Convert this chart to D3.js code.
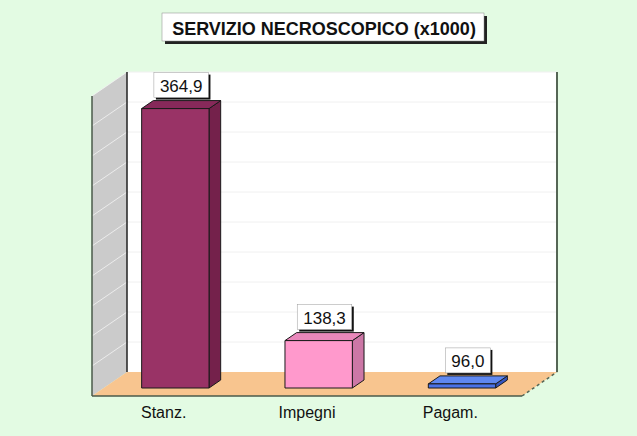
<!DOCTYPE html>
<html><head><meta charset="utf-8">
<script src="https://cdn.jsdelivr.net/npm/d3@7"></script>
<style>
html,body{margin:0;padding:0;background:#e3fbe3;}
svg{display:block;}
text{font-family:"Liberation Sans", Arial, sans-serif;}
</style></head>
<body>
<svg id="chart" width="637" height="436"></svg>
<script>
// ---- data ----
const title = "SERVIZIO NECROSCOPICO (x1000)";
const categories = ["Stanz.", "Impegni", "Pagam."];
const values = [364.9, 138.3, 96.0];
const frontColors = ["#993366", "#ff99cc", "#4a72e6"];
const topColors = ["#87295a", "#e988bb", "#5f88f0"];
const sideColors = ["#74214b", "#cc77a6", "#3556c0"];
const axisDomain = [92, 385];
const gridDivisions = 10;

// ---- layout ----
const svg = d3.select("#chart");
const W = 637, H = 436;
const backLeft = 127, backRight = 557, backTop = 72, backBottom = 372;
const DX = 35, DY = 24; // depth vector (front -> back)
const frontLeft = backLeft - DX, frontRight = backRight - DX, frontBottom = backBottom + DY;

const x = d3.scaleBand().domain(categories).range([frontLeft, frontRight]);
const y = d3.scaleLinear().domain(axisDomain).range([backBottom, backTop]);
const fmt = d3.formatLocale({decimal: ",", thousands: ".", grouping: [3], currency: ["", "€"]}).format(".1f");

svg.append("rect").attr("width", W).attr("height", H).attr("fill", "#e3fbe3");

// back wall
svg.append("rect").attr("x", backLeft).attr("y", backTop)
  .attr("width", backRight - backLeft).attr("height", backBottom - backTop).attr("fill", "#ffffff");
// left wall
svg.append("polygon")
  .attr("points", [[frontLeft, backTop + DY], [backLeft, backTop], [backLeft, backBottom], [frontLeft, frontBottom]].map(p => p.join(",")).join(" "))
  .attr("fill", "#cbcbcb");
// floor
svg.append("polygon")
  .attr("points", [[backLeft, backBottom], [backRight, backBottom], [frontRight, frontBottom], [frontLeft, frontBottom]].map(p => p.join(",")).join(" "))
  .attr("fill", "#f8c58f");

// gridlines
const gridVals = d3.range(gridDivisions + 1).map(i => axisDomain[0] + (axisDomain[1] - axisDomain[0]) * i / gridDivisions);
const g = svg.append("g");
gridVals.slice(1).forEach(v => {
  g.append("line").attr("x1", backLeft).attr("x2", backRight).attr("y1", y(v)).attr("y2", y(v))
    .attr("stroke", "#f0f0f0").attr("stroke-width", 1);
  g.append("line").attr("x1", frontLeft).attr("x2", backLeft).attr("y1", y(v) + DY).attr("y2", y(v))
    .attr("stroke", "#f4f4f4").attr("stroke-width", 0.8);
});

// frame lines
svg.append("line").attr("x1", backLeft).attr("x2", backLeft).attr("y1", backTop).attr("y2", backBottom).attr("stroke", "#222").attr("stroke-width", 1.5);
svg.append("line").attr("x1", frontLeft).attr("x2", frontLeft).attr("y1", backTop + DY).attr("y2", frontBottom).attr("stroke", "#4a5a4a").attr("stroke-width", 1.5);
svg.append("line").attr("x1", backRight).attr("x2", backRight).attr("y1", backTop).attr("y2", backBottom).attr("stroke", "#556655").attr("stroke-width", 2);
svg.append("line").attr("x1", frontLeft).attr("x2", frontRight).attr("y1", frontBottom).attr("y2", frontBottom).attr("stroke", "#4a5a4a").attr("stroke-width", 1.5);
svg.append("line").attr("x1", frontRight).attr("x2", backRight).attr("y1", frontBottom).attr("y2", backBottom)
  .attr("stroke", "#556655").attr("stroke-width", 1.5).attr("stroke-dasharray", "3,3");

// bars
const dFront = 1/3, dBack = 2/3;
const bw = x.bandwidth() * 0.47;
values.forEach((v, i) => {
  const c = x(categories[i]) + x.bandwidth() / 2;
  const fx = c + DX * dFront;
  const x0 = fx - bw / 2, x1 = fx + bw / 2;
  const yb = y(axisDomain[0]) + (DY - DY * dFront);
  const yt = y(v) + (DY - DY * dFront);
  const ddx = DX * (dBack - dFront), ddy = DY * (dBack - dFront);
  const grp = svg.append("g").attr("stroke", "#1a1a1a").attr("stroke-width", 1).attr("stroke-linejoin", "round");
  // side
  grp.append("polygon").attr("points", [[x1, yt], [x1 + ddx, yt - ddy], [x1 + ddx, yb - ddy], [x1, yb]].map(p => p.join(",")).join(" "))
    .attr("fill", sideColors[i]);
  // top
  grp.append("polygon").attr("points", [[x0, yt], [x1, yt], [x1 + ddx, yt - ddy], [x0 + ddx, yt - ddy]].map(p => p.join(",")).join(" "))
    .attr("fill", topColors[i]);
  // front
  grp.append("rect").attr("x", x0).attr("y", yt).attr("width", bw).attr("height", yb - yt).attr("fill", frontColors[i]);

  // value label
  const lbl = svg.append("g");
  const t = lbl.append("text").attr("x", c + DX / 2).attr("y", yt - ddy - 9).attr("text-anchor", "middle")
    .attr("font-size", 17).attr("fill", "#111").text(fmt(v));
  const bb = t.node().getBBox();
  const bx = bb.x - 6, by = yt - ddy - 28, bwid = bb.width + 12, bh = 25;
  lbl.insert("rect", "text").attr("x", bx + 2).attr("y", by + 2).attr("width", bwid).attr("height", bh).attr("fill", "#111");
  lbl.insert("rect", "text").attr("x", bx).attr("y", by).attr("width", bwid).attr("height", bh).attr("fill", "#fff")
    .attr("stroke", "#999").attr("stroke-width", 0.5);

  // category label
  svg.append("text").attr("x", c).attr("y", 418).attr("text-anchor", "middle").attr("font-size", 16)
    .attr("fill", "#111").text(categories[i]);
});

// title
const tg = svg.append("g");
const tt = tg.append("text").attr("x", 324).attr("y", 35).attr("text-anchor", "middle")
  .attr("font-size", 18).attr("font-weight", "bold").attr("fill", "#111").text(title);
tg.insert("rect", "text").attr("x", 165).attr("y", 16).attr("width", 322).attr("height", 28).attr("fill", "#222");
tg.insert("rect", "text").attr("x", 162).attr("y", 13).attr("width", 322).attr("height", 28).attr("fill", "#fff")
  .attr("stroke", "#888").attr("stroke-width", 0.5);
</script>
</body></html>
